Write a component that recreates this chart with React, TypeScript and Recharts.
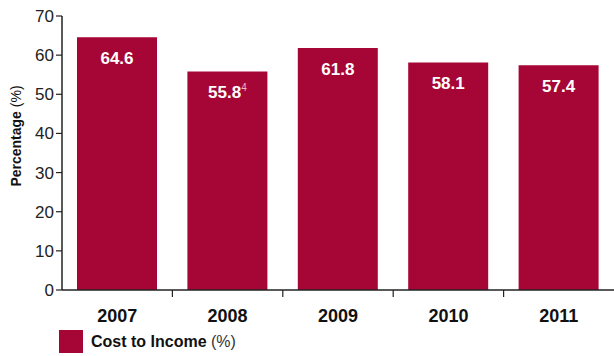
import React from 'react';
import { BarChart, Bar, XAxis, YAxis, LabelList, Legend } from 'recharts';

const years = ['2007', '2008', '2009', '2010', '2011'];
const costToIncome = [64.6, 55.8, 61.8, 58.1, 57.4];
const footnotes = ['', '4', '', '', ''];
const yTicks = [0, 10, 20, 30, 40, 50, 60, 70];

const data = years.map((year, i) => ({ year, value: costToIncome[i], note: footnotes[i] }));

const BAR_COLOR = '#a60635';
const FONT = '"Liberation Sans", Arial, sans-serif';
const CHART_W = 614;
const AXIS_LEFT = 62;
const BAND = (CHART_W - AXIS_LEFT) / years.length;

function YearTick(props: any) {
  const { x, y, payload, index } = props;
  const left = x - BAND / 2;
  return (
    <g>
      {index > 0 && <line x1={left} x2={left} y1={y - 1} y2={y - 8} stroke="#222" strokeWidth={1.2} />}
      <text x={x} y={y + 18} textAnchor="middle" dominantBaseline="central" fontFamily={FONT} fontWeight="bold" fontSize={18} fill="#111">
        {payload.value}
      </text>
    </g>
  );
}

function ValueLabel(props: any) {
  const { x, y, width, value, index } = props;
  const note = footnotes[index];
  return (
    <text x={x + width / 2} y={y + 21} textAnchor="middle" dominantBaseline="central" fontFamily={FONT} fontWeight="bold" fontSize={17} fill="#fff">
      {value.toFixed(1)}
      {note && (
        <tspan fontSize={10} fontWeight="normal" fill="#f3b6c6" dy={-6}>{note}</tspan>
      )}
    </text>
  );
}

function LegendBox() {
  return (
    <div style={{ display: 'flex', alignItems: 'center', paddingLeft: 59, paddingTop: 10, fontFamily: FONT, fontSize: 16, color: '#111' }}>
      <span style={{ display: 'inline-block', width: 24, height: 23, background: BAR_COLOR, marginRight: 8 }} />
      <span><b>Cost to Income</b> <span style={{ color: '#333' }}>(%)</span></span>
    </div>
  );
}

export default function App() {
  return (
    <div style={{ position: 'absolute', left: 0, top: 0, width: CHART_W, height: 356, background: '#fff' }}>
      <BarChart width={CHART_W} height={356} data={data} margin={{ top: 16, right: 0, bottom: 0, left: 0 }} barCategoryGap={15}>
        <YAxis
          width={AXIS_LEFT}
          domain={[0, 70]}
          ticks={yTicks}
          interval={0}
          axisLine={{ stroke: '#222', strokeWidth: 1.5 }}
          tickLine={{ stroke: '#222', strokeWidth: 1.2 }}
          tickSize={6}
          tick={{ fontFamily: FONT, fontSize: 17, fill: '#222' }}
          label={(
            <text x={15} y={152} transform="rotate(-90 15 152)" textAnchor="middle" dominantBaseline="central" fontFamily={FONT} fontSize={14} fill="#111">
              <tspan fontWeight="bold">Percentage</tspan>
              <tspan> (%)</tspan>
            </text>
          ) as any}
        />
        <XAxis
          dataKey="year"
          height={30}
          axisLine={{ stroke: '#222', strokeWidth: 1.5 }}
          tickLine={false}
          tick={<YearTick />}
          interval={0}
        />
        <Legend verticalAlign="bottom" align="left" height={36} content={<LegendBox />} />
        <Bar dataKey="value" fill={BAR_COLOR} isAnimationActive={false}>
          <LabelList dataKey="value" content={<ValueLabel />} />
        </Bar>
      </BarChart>
    </div>
  );
}
